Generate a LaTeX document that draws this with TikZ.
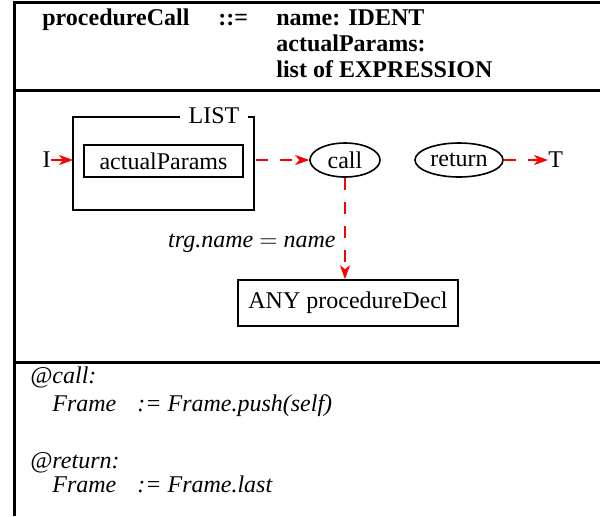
\documentclass[tikz,border=0pt]{standalone}
\usepackage{fontspec}
\setmainfont{Liberation Serif}
\usetikzlibrary{arrows.meta,shapes.geometric}
\tikzset{
    redarrow/.style={draw=red,thick,-{Stealth[length=7pt,width=5pt,inset=2pt]}},
    reddash/.style={redarrow,dash pattern=on 6pt off 6pt},
}
\begin{document}
\begin{tikzpicture}[x=0.5pt,y=-0.5pt,font=\fontsize{12}{14}\selectfont]
        \useasboundingbox (0,0) rectangle (600,516);
        % frame
        \draw[line width=1.5pt] (600,2) -- (14,2) -- (14,516);
        \draw[line width=1.5pt] (14,90) -- (600,90);
        \draw[line width=1.5pt] (14,362) -- (600,362);
        % header
        \begin{scope}[every node/.style={anchor=base west,inner sep=0pt,font=\fontsize{12}{14}\selectfont\bfseries}]
            \node (lhs) at (42,25) {procedureCall};
            \node (def) at (218,25) {::=};
            \node (r1) at (276,25) {name: IDENT};
            \node (r2) at (276,51) {actualParams:};
            \node (r3) at (276,77) {list of EXPRESSION};
        \end{scope}
        % list box
        \draw[thick] (180,117) -- (73,117) -- (73,210) -- (254,210) -- (254,117) -- (248,117);
        \node[anchor=base,inner sep=0pt] (listlbl) at (214,123) {LIST};
        \node[draw,thick,minimum width=79.5pt,minimum height=16pt,inner sep=0pt] (params) at (163.5,161) {actualParams};
        \begin{scope}[every node/.style={ellipse,draw,thick,inner sep=1pt,minimum height=17pt}]
            \node[minimum width=35pt] (call) at (345,160) {call};
            \node[minimum width=44pt] (ret) at (459,160) {return};
        \end{scope}
        \node[draw,thick,minimum width=110pt,minimum height=23pt,inner sep=0pt] (decl) at (348,303) {ANY procedureDecl};
        \node[anchor=east,inner sep=0pt] (in) at (51,160) {I};
        \node[anchor=west,inner sep=0pt] (out) at (548,160) {T};
        \coordinate (lin) at (73,160);
        \coordinate (lout) at (256,160);
        \path[redarrow] (in) -- (lin);
        \path[reddash] (lout) -- (call);
        \path[reddash] (ret) -- (out);
        \path[reddash] (call) -- (call |- decl.north)
            node[pos=0.65,left=1pt,text=black,font=\fontsize{12}{14}\selectfont\itshape] {trg.name $=$ name};
        % semantic rules
        \begin{scope}[every node/.style={anchor=base west,inner sep=0pt,font=\fontsize{12}{14}\selectfont\itshape}]
            \node (at1) at (30,383) {@call:};
            \node (f1) at (52,411) {Frame};
            \node (e1) at (137,411) {:= Frame.push(self)};
            \node (at2) at (30,468) {@return:};
            \node (f2) at (52,492) {Frame};
            \node (e2) at (137,492) {:= Frame.last};
        \end{scope}
    \end{tikzpicture}
\end{document}
